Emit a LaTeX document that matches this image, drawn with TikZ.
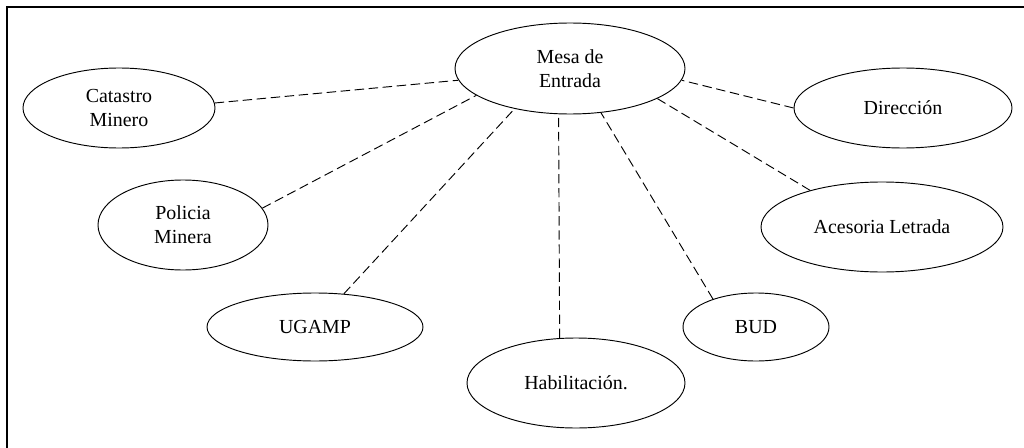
\documentclass[tikz,border=0pt]{standalone}
\usepackage{fontspec}
\setmainfont{Liberation Serif}
\usetikzlibrary{shapes.geometric}

\begin{document}
\begin{tikzpicture}[x = 0.03cm, y = -0.03cm,
	area/.style = {ellipse, draw, line width = 0.8pt, inner sep = 0pt, align = center,
		font = \fontsize{17pt}{20.5pt}\selectfont},
	link/.style = {line width = 0.8pt, dash pattern = on 8pt off 4pt}]
	
	\useasboundingbox (0, 0) rectangle (1024, 448);
	
	% The frame
	
	\draw [line width = 1.2pt] (7, 448) -- (7, 7) -- (1024, 7);
	
	% Offices
	
	\node [area, minimum width = 6.9cm, minimum height = 2.73cm] (mesa) at (570, 68.5) {Mesa de\\Entrada};
	\node [area, minimum width = 5.76cm, minimum height = 2.4cm] (catastro) at (119, 108) {Catastro\\Minero};
	\node [area, minimum width = 5.1cm, minimum height = 2.7cm] (policia) at (183, 225) {Policia\\Minera};
	\node [area, minimum width = 6.48cm, minimum height = 2.04cm] (ugamp) at (315, 327) {UGAMP};
	\node [area, minimum width = 6.54cm, minimum height = 2.7cm] (habil) at (576, 383) {Habilitación.};
	\node [area, minimum width = 4.38cm, minimum height = 2.04cm] (bud) at (756, 327) {BUD};
	\node [area, minimum width = 7.26cm, minimum height = 2.7cm] (acesoria) at (882, 227) {Acesoria Letrada};
	\node [area, minimum width = 6.54cm, minimum height = 2.4cm] (direccion) at (903, 108) {Dirección};
	
	% Dashed links to the front desk
	
	\begin{scope}[link]
	
		\draw (catastro.3) -- (mesa.186);
		\draw (policia.12) -- (mesa.196);
		\draw (ugamp.49) -- (mesa.216);
		\draw (habil.110) -- (mesa.256);
		\draw (bud.147) -- (mesa.305);
		\draw (acesoria.153) -- (mesa.341);
		\draw (direccion.180) -- (mesa.354);
		
	\end{scope}

\end{tikzpicture}
\end{document}
